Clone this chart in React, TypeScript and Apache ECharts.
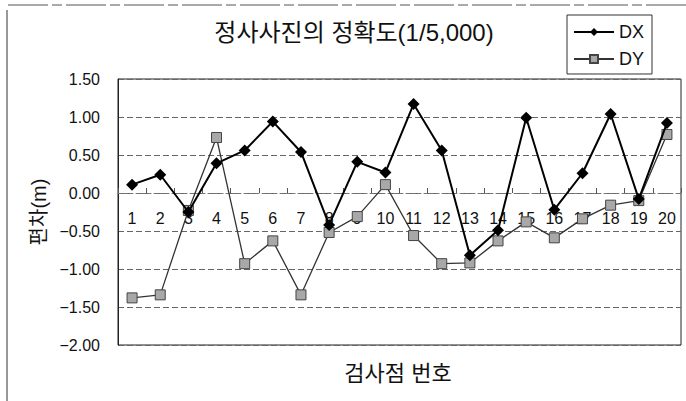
import React, { useEffect, useRef } from "react";
import * as echarts from "echarts";

const categories = ["1","2","3","4","5","6","7","8","9","10","11","12","13","14","15","16","17","18","19","20"];
const dxValues = [0.11, 0.24, -0.25, 0.39, 0.56, 0.94, 0.54, -0.42, 0.41, 0.27, 1.17, 0.56, -0.82, -0.49, 0.99, -0.22, 0.26, 1.04, -0.08, 0.92];
const dyValues = [-1.38, -1.34, -0.23, 0.73, -0.93, -0.63, -1.34, -0.52, -0.31, 0.11, -0.56, -0.93, -0.92, -0.63, -0.38, -0.59, -0.34, -0.16, -0.10, 0.77];
const titleText = "정사사진의 정확도(1/5,000)";
const xName = "검사점 번호";
const yName = "편차(m)";

const FONT = "'Liberation Sans', 'Noto Sans CJK KR', sans-serif";

const GRID_TOP = 79;
const GRID_BOTTOM = 56;
const CHART_H = 401;
const Y_MIN = -2;
const Y_MAX = 1.5;

export default function App() {
  const ref = useRef<HTMLDivElement>(null);
  useEffect(() => {
    if (!ref.current) return;
    const chart = echarts.init(ref.current, null, { renderer: "svg" });
    const plotH = CHART_H - GRID_TOP - GRID_BOTTOM;
    const zeroOffset = -plotH * (0 - Y_MIN) / (Y_MAX - Y_MIN);
    chart.setOption({
      animation: false,
      backgroundColor: "#fff",
      textStyle: { fontFamily: FONT },
      title: {
        text: titleText,
        left: 349,
        top: 15,
        textAlign: "center",
        textStyle: { fontSize: 24, fontWeight: "normal", color: "#111", fontFamily: FONT },
      },
      legend: {
        orient: "vertical",
        left: 567,
        top: 15,
        padding: [8, 8, 6, 6],
        itemGap: 9,
        itemWidth: 40,
        itemHeight: 10,
        borderColor: "#333",
        borderWidth: 1,
        textStyle: { fontSize: 18, color: "#111", fontFamily: FONT },
        data: ["DX", "DY"],
      },
      grid: { left: 118, right: 5, top: GRID_TOP, bottom: GRID_BOTTOM, show: true, borderColor: "#222", borderWidth: 1 },
      xAxis: [
        {
          type: "category",
          data: categories,
          boundaryGap: true,
          position: "bottom",
          offset: zeroOffset,
          axisLine: { onZero: false, lineStyle: { color: "#777", type: [3, 3], width: 1 } },
          axisTick: { show: true, inside: true, length: 5, lineStyle: { color: "#555" } },
          axisLabel: { fontSize: 16, color: "#111", margin: 17, fontFamily: FONT },
          splitLine: { show: false },
        },
      ],
      yAxis: {
        type: "value",
        min: Y_MIN,
        max: Y_MAX,
        interval: 0.5,
        name: yName,
        nameLocation: "middle",
        nameGap: 68,
        nameTextStyle: { fontSize: 20, color: "#111", fontFamily: FONT },
        axisLine: { show: true, lineStyle: { color: "#222" } },
        axisTick: { show: false },
        axisLabel: {
          fontSize: 16,
          color: "#111",
          margin: 18,
          fontFamily: FONT,
          formatter: (v: number) => v.toFixed(2).replace("-", "−"),
        },
        splitLine: { show: true, lineStyle: { color: "#666", type: [6, 3], width: 1 } },
      },
      graphic: [
        { type: "line", shape: { x1: 8, y1: 5, x2: 686, y2: 5 }, style: { stroke: "#555", lineWidth: 1, lineDash: [40, 4, 10, 4] } },
        { type: "line", shape: { x1: 7, y1: 10, x2: 7, y2: 401 }, style: { stroke: "#333", lineWidth: 1 } },
        {
          type: "text",
          x: 398,
          y: 373,
          style: { text: xName, fontSize: 22, fill: "#111", fontFamily: FONT, align: "center", verticalAlign: "middle" },
        },
      ],
      series: [
        {
          name: "DX",
          type: "line",
          data: dxValues,
          symbol: "diamond",
          symbolSize: 12,
          itemStyle: { color: "#000" },
          lineStyle: { color: "#000", width: 2 },
          z: 3,
        },
        {
          name: "DY",
          type: "line",
          data: dyValues,
          symbol: "rect",
          symbolSize: 10,
          itemStyle: { color: "#a8a8a8", borderColor: "#444", borderWidth: 1 },
          lineStyle: { color: "#333", width: 1.3 },
          z: 2,
        },
      ],
    });
    return () => chart.dispose();
  }, []);
  return <div ref={ref} style={{ width: 686, height: 401, position: "absolute", left: 0, top: 0 }} />;
}
